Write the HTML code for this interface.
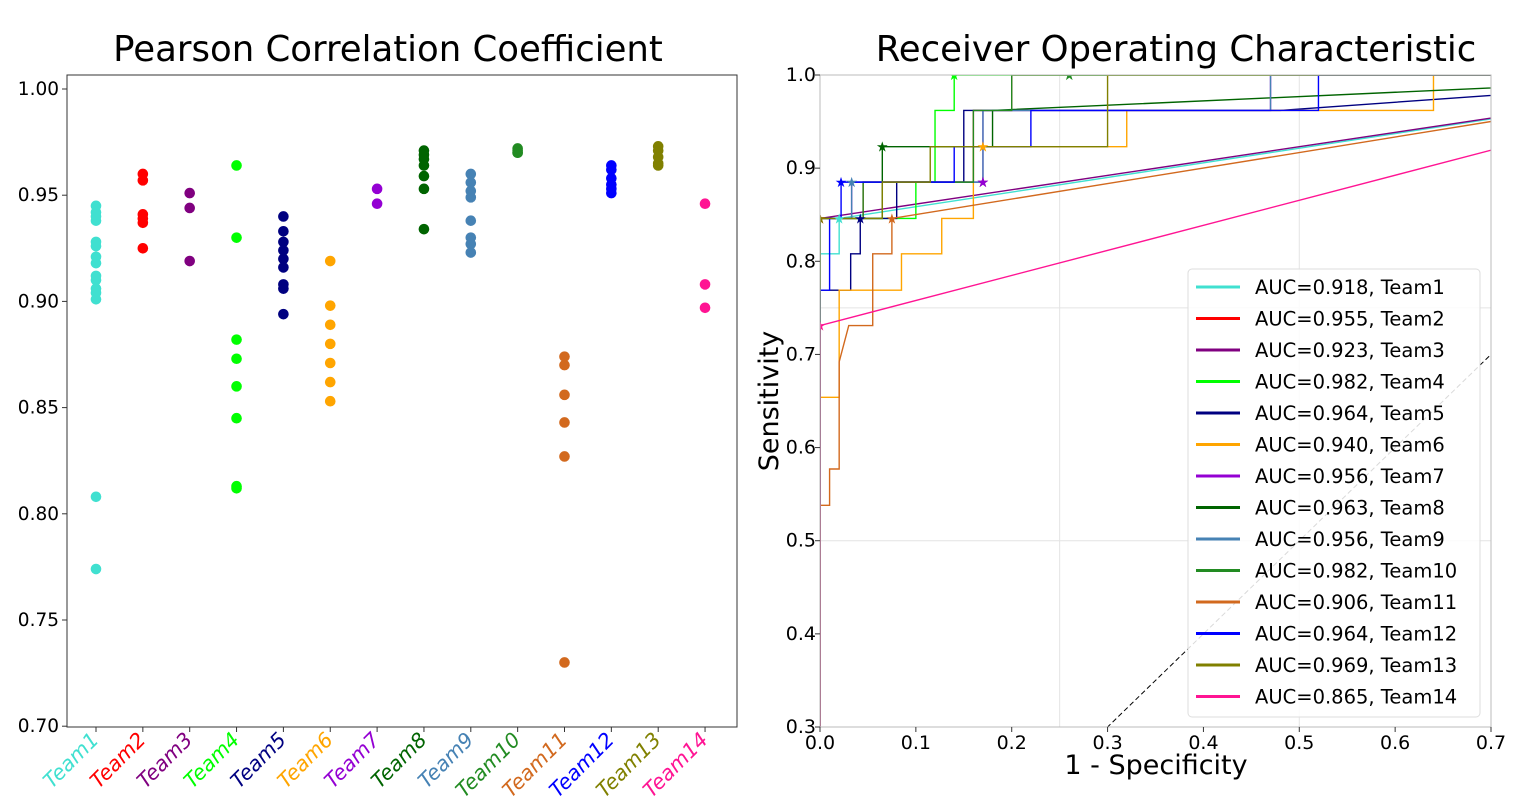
<!DOCTYPE html>
<html><head><meta charset="utf-8"><style>
html,body{margin:0;background:#fff;width:1540px;height:810px;overflow:hidden;}
svg{display:block;font-family:"DejaVu Sans","Liberation Sans",sans-serif;}
</style></head><body>
<svg id="svg" width="1540" height="810"></svg>
<script>
const teams=["Team1","Team2","Team3","Team4","Team5","Team6","Team7","Team8","Team9","Team10","Team11","Team12","Team13","Team14"];
const colors=["#40e0d0","#ff0000","#800080","#00ff00","#000080","#ffa500","#9400d3","#006400","#4682b4","#228b22","#d2691e","#0000ff","#808000","#ff1493"];
const pearson=[
[0.945,0.942,0.940,0.938,0.928,0.926,0.921,0.918,0.912,0.910,0.906,0.904,0.901,0.808,0.774],
[0.960,0.957,0.941,0.939,0.937,0.925],
[0.951,0.944,0.919],
[0.964,0.930,0.882,0.873,0.860,0.845,0.813,0.812],
[0.940,0.933,0.928,0.924,0.920,0.916,0.908,0.906,0.894],
[0.919,0.898,0.889,0.880,0.871,0.862,0.853],
[0.953,0.946],
[0.971,0.969,0.967,0.964,0.959,0.953,0.934],
[0.960,0.956,0.952,0.949,0.938,0.930,0.927,0.923],
[0.972,0.971,0.970,0.970],
[0.874,0.870,0.856,0.843,0.827,0.730],
[0.964,0.962,0.958,0.955,0.953,0.951],
[0.973,0.971,0.968,0.965,0.964],
[0.946,0.908,0.897]];
const pTicks=[0.70,0.75,0.80,0.85,0.90,0.95,1.00];
const aucs=["0.918","0.955","0.923","0.982","0.964","0.940","0.956","0.963","0.956","0.982","0.906","0.964","0.969","0.865"];
const rocCurves=[
[[0,0],[0,0.808],[0.02,0.808],[0.02,0.846],[1,1]],
[[0,0],[0,0.846],[0.045,0.846],[0.045,0.885],[0.16,0.885],[0.16,0.962],[0.2,0.962],[0.2,1],[1,1]],
[[0,0],[0,0.846],[1,1]],
[[0,0],[0,0.846],[0.1,0.846],[0.1,0.885],[0.12,0.885],[0.12,0.962],[0.14,0.962],[0.14,1],[1,1]],
[[0,0],[0,0.769],[0.032,0.769],[0.032,0.808],[0.042,0.808],[0.042,0.846],[0.08,0.846],[0.08,0.885],[0.15,0.885],[0.15,0.962],[0.48,0.962],[1,1]],
[[0,0],[0,0.654],[0.02,0.654],[0.02,0.769],[0.085,0.769],[0.085,0.808],[0.127,0.808],[0.127,0.846],[0.16,0.846],[0.16,0.923],[0.32,0.923],[0.32,0.962],[0.64,0.962],[0.64,1],[1,1]],
[[0,0],[0,0.846],[0.033,0.846],[0.033,0.885],[0.17,0.885],[0.17,0.962],[0.47,0.962],[0.47,1],[1,1]],
[[0,0],[0,0.846],[0.065,0.846],[0.065,0.923],[0.18,0.923],[0.18,0.962],[1,1]],
[[0,0],[0,0.846],[0.033,0.846],[0.033,0.885],[0.17,0.885],[0.17,0.962],[0.47,0.962],[0.47,1],[1,1]],
[[0,0],[0,0.846],[0.045,0.846],[0.045,0.885],[0.16,0.885],[0.16,0.962],[0.2,0.962],[0.2,1],[1,1]],
[[0,0],[0,0.538],[0.01,0.538],[0.01,0.577],[0.02,0.577],[0.02,0.692],[0.03,0.731],[0.055,0.731],[0.055,0.808],[0.075,0.808],[0.075,0.846],[1,1]],
[[0,0],[0,0.769],[0.01,0.769],[0.01,0.846],[0.022,0.846],[0.022,0.885],[0.14,0.885],[0.14,0.923],[0.22,0.923],[0.22,0.962],[0.52,0.962],[0.52,1],[1,1]],
[[0,0],[0,0.846],[0.065,0.846],[0.065,0.885],[0.115,0.885],[0.115,0.923],[0.3,0.923],[0.3,1],[1,1]],
[[0,0],[0,0.731],[1,1]]];
const rocStars=[[0.02,0.846],[0,0.846],[0.17,0.885],[0.14,1],[0.042,0.846],[0.17,0.923],[0.17,0.885],[0.065,0.923],[0.033,0.885],[0.26,1],[0.075,0.846],[0.022,0.885],[0,0.846],[0,0.731]];
const xTicks=[0,0.1,0.2,0.3,0.4,0.5,0.6,0.7];
const yTicks=[0.3,0.4,0.5,0.6,0.7,0.8,0.9,1.0];

const NS="http://www.w3.org/2000/svg";
const svg=document.getElementById('svg');
function el(tag,attrs,parent,text){const e=document.createElementNS(NS,tag);for(const k in attrs)e.setAttribute(k,attrs[k]);if(text!==undefined)e.textContent=text;(parent||svg).appendChild(e);return e;}

const L={x0:67,x1:737,y0:75,y1:727};
const py=v=>89+(1.0-v)/0.05*106.2;
const px=i=>96+i*46.85;
const gl=el('g',{});


let t=el('text',{x:388,y:61,'font-size':35.5,'text-anchor':'middle'},gl,'Pearson Correlation Coefficient');


el('rect',{x:L.x0,y:L.y0,width:L.x1-L.x0,height:L.y1-L.y0,fill:'none',stroke:'#333','stroke-width':1},gl);
pTicks.forEach(v=>{const y=py(v);el('line',{x1:L.x0-5,x2:L.x0,y1:y,y2:y,stroke:'#333'},gl);
 const tt=el('text',{x:L.x0-8,y:y+6,'font-size':18.5,'text-anchor':'end'},gl,v.toFixed(2));
 
 });
teams.forEach((tm,i)=>{const x=px(i);el('line',{x1:x,x2:x,y1:L.y1,y2:L.y1+5,stroke:'#333'},gl);
 const tt=el('text',{x:x+4,y:L.y1+14,'font-size':20.5,'font-style':'italic','text-anchor':'end',fill:colors[i],transform:`rotate(-45 ${x+4} ${L.y1+14})`},gl,tm);
 
 
 pearson[i].forEach(v=>{const c=el('circle',{cx:x,cy:py(v),r:5.3,fill:colors[i]},gl);
  
  });});

const R={x0:820,x1:1491,y0:75,y1:727};
const rx=v=>R.x0+v/0.7*(R.x1-R.x0);
const ry=v=>R.y1-(v-0.3)/0.7*(R.y1-R.y0);
const gr=el('g',{});


t=el('text',{x:1176,y:61,'font-size':35.5,'text-anchor':'middle'},gr,'Receiver Operating Characteristic');


const clip=el('clipPath',{id:'rc'},gr);el('rect',{x:R.x0,y:R.y0,width:R.x1-R.x0,height:R.y1-R.y0},clip);
[0.25,0.5].forEach(v=>el('line',{x1:rx(v),x2:rx(v),y1:R.y0,y2:R.y1,stroke:'#e4e4e4'},gr));
[0.5,0.75].forEach(v=>el('line',{x1:R.x0,x2:R.x1,y1:ry(v),y2:ry(v),stroke:'#e4e4e4'},gr));
const cg=el('g',{'clip-path':'url(#rc)'},gr);
el('line',{x1:rx(0),y1:ry(0),x2:rx(1),y2:ry(1),stroke:'#000','stroke-dasharray':'5,3','stroke-width':1},cg);
rocCurves.forEach((pts,i)=>{const p=el('polyline',{points:pts.map(q=>rx(q[0])+','+ry(q[1])).join(' '),fill:'none',stroke:colors[i],'stroke-width':1.4},cg);
 
 });
rocStars.forEach((s,i)=>{const st=el('text',{x:rx(s[0]),y:ry(s[1])+5,'font-size':14,'text-anchor':'middle',fill:colors[i]},cg,'★');
 
 });
el('rect',{x:R.x0,y:R.y0,width:R.x1-R.x0,height:R.y1-R.y0,fill:'none',stroke:'#bbb'},gr);
xTicks.forEach(v=>{const x=rx(v);el('line',{x1:x,x2:x,y1:R.y1,y2:R.y1+5,stroke:'#333'},gr);
 const tt=el('text',{x:x,y:R.y1+22,'font-size':19,'text-anchor':'middle'},gr,v.toFixed(1));
 
 });
yTicks.forEach(v=>{const y=ry(v);el('line',{x1:R.x0-5,x2:R.x0,y1:y,y2:y,stroke:'#333'},gr);
 const tt=el('text',{x:R.x0-4,y:y+6,'font-size':19,'text-anchor':'end'},gr,v.toFixed(1));
 
 });
t=el('text',{x:1156,y:774,'font-size':27,'text-anchor':'middle'},gr,'1 - Specificity');


t=el('text',{x:778,y:401,'font-size':27,'text-anchor':'middle',transform:'rotate(-90 778 401)'},gr,'Sensitivity');


const lg=el('g',{},gr);


el('rect',{x:1188,y:269,width:292,height:448,rx:4,fill:'rgba(255,255,255,0.85)',stroke:'#ddd'},lg);
teams.forEach((tm,i)=>{const y=287+i*31.5;
 el('line',{x1:1196,x2:1240,y1:y,y2:y,stroke:colors[i],'stroke-width':3},lg);
 const tt=el('text',{x:1255,y:y+7,'font-size':19.5},lg,'AUC='+aucs[i]+', '+tm);
 
 });
</script>
</body></html>
